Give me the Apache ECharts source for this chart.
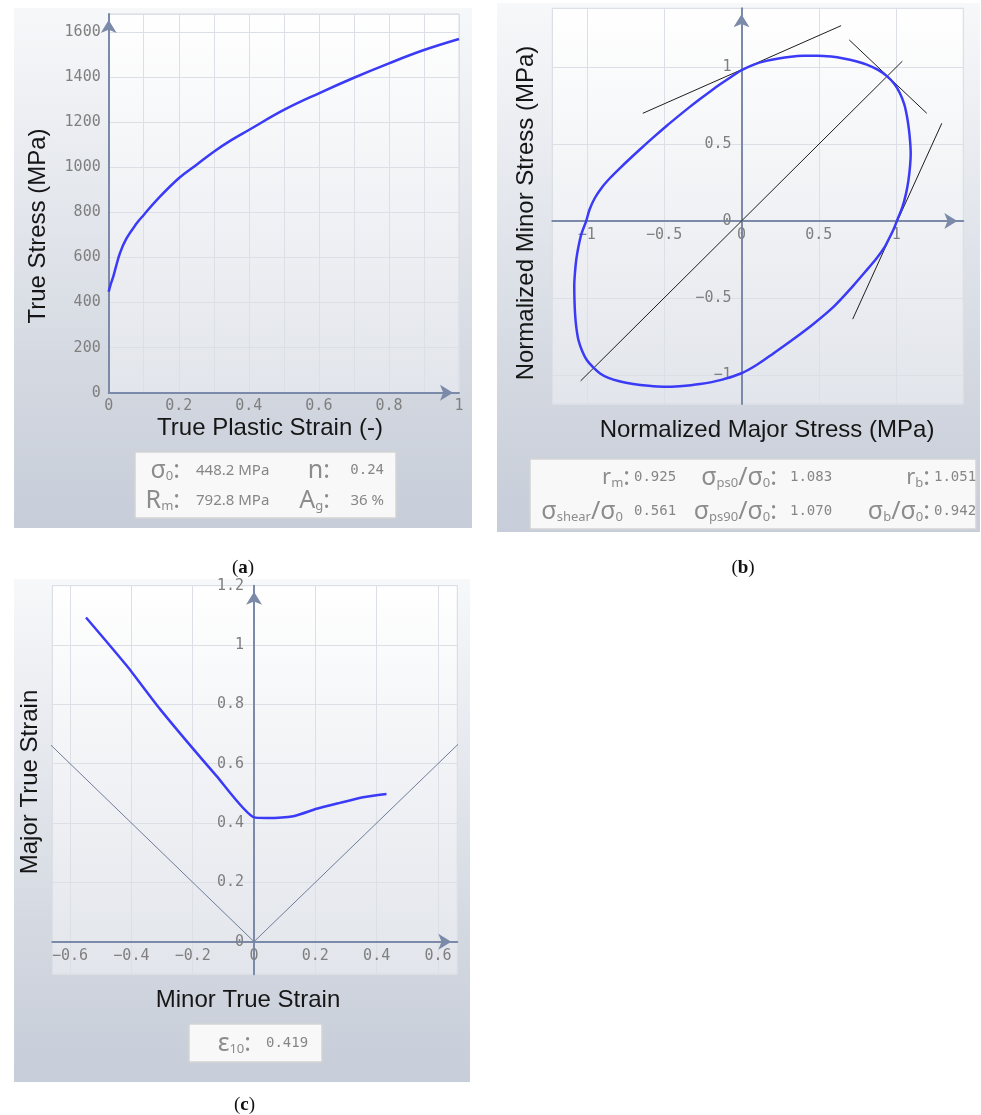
<!DOCTYPE html>
<html>
<head>
<meta charset="utf-8">
<script src="https://cdn.jsdelivr.net/npm/echarts@6/dist/echarts.min.js"></script>
<style>
  html, body { margin: 0; padding: 0; background: #ffffff; }
  #chart { width: 981px; height: 1115px; }
</style>
</head>
<body>
<div id="chart"></div>
<script>
// ---- (a) flow curve: true stress vs true plastic strain ----
const strainA = [0, 0.005, 0.013, 0.02, 0.032, 0.05, 0.08, 0.1, 0.137, 0.2, 0.25, 0.3, 0.35, 0.4, 0.5, 0.6, 0.7, 0.8, 0.9, 1.0];
const stressA = [448, 478, 515, 555, 619, 683, 752, 789, 855, 952, 1011, 1070, 1121, 1166, 1255, 1329, 1398, 1462, 1521, 1570];

// ---- (b) normalized yield locus (closed loop, counter-clockwise from the major-stress axis) ----
const locusMajor = [1.004, 1.04, 1.064, 1.08, 1.09, 1.094, 1.09, 1.082, 1.07, 1.052, 1.025, 0.99, 0.94, 0.88, 0.81, 0.74, 0.66, 0.58, 0.49, 0.4, 0.32, 0.24, 0.16, 0.08, 0,
  -0.07, -0.138, -0.2, -0.268, -0.34, -0.41, -0.483, -0.57, -0.655, -0.72, -0.785, -0.845, -0.9, -0.948, -0.982, -1.004,
  -1.035, -1.054, -1.068, -1.076, -1.081, -1.08, -1.076, -1.068, -1.054, -1.03, -1.0, -0.96, -0.914, -0.86, -0.79, -0.7, -0.6, -0.505, -0.4, -0.268, -0.13, 0,
  0.1, 0.206, 0.33, 0.465, 0.6, 0.723, 0.8, 0.875, 0.925, 0.96, 0.985, 1.004];
const locusMinor = [0, 0.09, 0.18, 0.27, 0.36, 0.44, 0.52, 0.6, 0.68, 0.76, 0.83, 0.89, 0.943, 0.985, 1.018, 1.04, 1.058, 1.07, 1.076, 1.075, 1.069, 1.058, 1.042, 1.018, 0.981,
  0.936, 0.89, 0.845, 0.794, 0.738, 0.681, 0.62, 0.544, 0.467, 0.407, 0.345, 0.285, 0.222, 0.15, 0.075, 0,
  -0.085, -0.167, -0.25, -0.33, -0.42, -0.5, -0.6, -0.69, -0.774, -0.845, -0.904, -0.95, -0.991, -1.02, -1.042, -1.06, -1.072, -1.078, -1.074, -1.06, -1.033, -0.99,
  -0.935, -0.861, -0.772, -0.669, -0.553, -0.42, -0.33, -0.24, -0.17, -0.102, -0.05, 0];
// reference lines: tangents at the uniaxial / biaxial points and the equibiaxial diagonal
const tangentUni90 = [[-0.638, 0.701], [0.644, 1.271]];
const tangentBiax  = [[0.697, 1.178], [1.198, 0.701]];
const tangentUni0  = [[0.719, -0.638], [1.295, 0.636]];
const diagonalB    = [[-1.04, -1.04], [1.04, 1.04]];

// ---- (c) forming limit curve ----
const flcMinor = [-0.548, -0.415, -0.306, -0.122, 0, 0.041, 0.128, 0.204, 0.28, 0.356, 0.432];
const flcMajor = [1.093, 0.93, 0.783, 0.558, 0.419, 0.417, 0.423, 0.448, 0.468, 0.487, 0.498];
const guideMinor = [-0.7, 0, 0.7];
const guideMajor = [0.7, 0, 0.7];

// ---- info box texts ----
const infoA = [
  { sym: '{s|σ}{sub|0}{s|:}', val: '448.2 MPa', sym2: '{s|n:}', val2: '0.24' },
  { sym: '{s|R}{sub|m}{s|:}', val: '792.8 MPa', sym2: '{s|A}{sub|g}{s|:}', val2: '36 %' }
];
const infoB = [
  ['{r|r}{sub|m}{s|:}', '0.925', '{s|σ}{sub|ps0}{s|/σ}{sub|0}{s|:}', '1.083', '{r|r}{sub|b}{s|:}', '1.051'],
  ['{s|σ}{sub|shear}{s|/σ}{sub|0}', '0.561', '{s|σ}{sub|ps90}{s|/σ}{sub|0}{s|:}', '1.070', '{s|σ}{sub|b}{s|/σ}{sub|0}{s|:}', '0.942']
];
const infoC = { sym: '{s|ε}{sub|10}{s|:}', val: '0.419' };

const pairs = (xs, ys) => xs.map((x, i) => [x, ys[i]]);

const AXIS_COLOR = '#7b8aa8';
const LABEL_FONT = '"DejaVu Sans Mono", monospace';
const TITLE_FONT = '24px "Liberation Sans", Arial, sans-serif';
const minus = v => String(+(+v).toFixed(6)).replace('-', '\u2212');

// plot rectangles [left, top, width, height]
const RECT_A = [108.7, 14, 350.3, 378.7];
const RECT_B = [552.3, 8.3, 411, 395.7];
const RECT_C = [52.3, 585.7, 405, 388.6];

function valueAxis(gridIndex, extra) {
  const labelBase = {
    fontFamily: LABEL_FONT, fontSize: 15, color: '#7f7f7f', margin: 8,
    formatter: minus
  };
  const out = {
    type: 'value',
    gridIndex: gridIndex,
    axisLine: {
      show: true,
      onZero: false,
      lineStyle: { color: AXIS_COLOR, width: 2 },
      symbol: ['none', 'arrow'],
      symbolSize: [12, 13],
      symbolOffset: [0, -6]
    },
    axisTick: { show: false },
    splitLine: { show: true, lineStyle: { color: '#dcdfe5', width: 1 } }
  };
  Object.keys(extra).forEach(k => { if (k !== 'axisLabel') out[k] = extra[k]; });
  out.axisLabel = Object.assign({}, labelBase, extra.axisLabel || {});
  return out;
}
// shift an axis so that it crosses the other axis at zero
const zeroOffset = (min, max, span) => -span * (0 - min) / (max - min);

const plotBg = {
  type: 'linear', x: 0, y: 0, x2: 0, y2: 1,
  colorStops: [{ offset: 0, color: '#ffffff' }, { offset: 1, color: '#e2e5eb' }]
};
const panelBg = {
  type: 'linear', x: 0, y: 0, x2: 0, y2: 1,
  colorStops: [{ offset: 0, color: '#f7f8fa' }, { offset: 0.75, color: '#d1d6df' }, { offset: 1, color: '#c7cdd9' }]
};

function gridBox(r) {
  return { left: r[0], top: r[1], width: r[2], height: r[3], show: true, backgroundColor: plotBg, borderColor: '#d6d9e0', borderWidth: 1 };
}

const SYM_FAMILY = '"Noto Sans", sans-serif';
const SYM_COLOR = '#8c8c8c';
const richSym = {
  s: { fontSize: 25, fontFamily: SYM_FAMILY, fill: SYM_COLOR },
  r: { fontSize: 22, fontFamily: SYM_FAMILY, fill: SYM_COLOR },
  sub: { fontSize: 13, fontFamily: SYM_FAMILY, fill: SYM_COLOR, verticalAlign: 'bottom' }
};

function symText(x, y, text, align) {
  return { type: 'text', x, y, z: 20, style: { text, rich: richSym, fill: SYM_COLOR, align: align || 'right', verticalAlign: 'middle' } };
}
function valText(x, y, text, font, align) {
  return { type: 'text', x, y, z: 20, style: { text, font, fill: '#868686', align: align || 'left', verticalAlign: 'middle' } };
}
function box(x, y, w, h) {
  return { type: 'rect', z: 15, shape: { x, y, width: w, height: h }, style: { fill: '#f8f8f8', stroke: '#d3d3d3', lineWidth: 1.5 } };
}
function title(x, y, text, vertical) {
  return { type: 'text', x, y, z: 20, rotation: vertical ? Math.PI / 2 : 0,
    style: { text, font: TITLE_FONT, fill: '#161616', align: 'center', verticalAlign: 'middle' } };
}
function caption(x, y, letter) {
  return { type: 'text', x, y, z: 20,
    style: { text: '(' + '{b|' + letter + '})', font: '19px "Liberation Serif", serif', fill: '#111',
      align: 'center', verticalAlign: 'middle',
      rich: { b: { fontWeight: 'bold', fontSize: 19, fontFamily: '"Liberation Serif", serif', fill: '#111' } } } };
}

const monoVal = '14px "DejaVu Sans Mono", monospace';
const sansVal = '15px "Noto Sans", sans-serif';

const graphics = [
  // panel backgrounds
  { type: 'rect', z: -10, shape: { x: 14, y: 8, width: 458, height: 520 }, style: { fill: panelBg } },
  { type: 'rect', z: -10, shape: { x: 497, y: 3, width: 483, height: 529 }, style: { fill: panelBg } },
  { type: 'rect', z: -10, shape: { x: 14, y: 579, width: 456, height: 503 }, style: { fill: panelBg } },
  // axis titles
  title(270, 428.5, 'True Plastic Strain (-)'),
  title(38, 226, 'True Stress (MPa)', true),
  title(767, 430.5, 'Normalized Major Stress (MPa)'),
  title(526, 213, 'Normalized Minor Stress (MPa)', true),
  title(248, 1000, 'Minor True Strain'),
  title(30.5, 782, 'Major True Strain', true),
  // info boxes
  box(135, 452, 261, 66),
  box(530, 459, 446, 70),
  box(189, 1024, 133, 38),
  // captions
  caption(243, 568, 'a'),
  caption(743, 568, 'b'),
  caption(244.5, 1105, 'c')
];

// (a) info rows
infoA.forEach((row, i) => {
  const y = 470.5 + i * 30;
  graphics.push(symText(180, y, row.sym));
  graphics.push(valText(196, y, row.val, sansVal));
  graphics.push(symText(330, y, row.sym2));
  graphics.push(valText(384, y, row.val2, i === 0 ? monoVal : sansVal, 'right'));
});
// (b) info rows
const colSymB = [[630, 623], [777, 777], [930, 930]];
const colValB = [634, 790, 934];
infoB.forEach((row, i) => {
  const y = 477.5 + i * 34;
  for (let c = 0; c < 3; c++) {
    graphics.push(symText(colSymB[c][i], y, row[c * 2]));
    graphics.push(valText(colValB[c], y, row[c * 2 + 1], monoVal));
  }
});
// (c) info row
graphics.push(symText(251, 1043.5, infoC.sym));
graphics.push(valText(266, 1043.5, infoC.val, monoVal));

const blue = '#3a3af7';

const XB = [-1.223, 1.434], YB = [-1.19, 1.384];
const XC = [-0.658, 0.663], YC = [-0.11, 1.2];

const option = {
  animation: false,
  backgroundColor: '#ffffff',
  grid: [gridBox(RECT_A), gridBox(RECT_B), gridBox(RECT_C)],
  xAxis: [
    valueAxis(0, { min: 0, max: 1, interval: 0.1,
      axisLabel: { margin: 6, formatter: v => (Math.round(v * 10) % 2 === 0 ? String(+(+v).toFixed(1)) : '') } }),
    valueAxis(1, { min: XB[0], max: XB[1], splitNumber: 5, position: 'bottom',
      offset: zeroOffset(YB[0], YB[1], RECT_B[3]),
      axisLabel: { margin: 7, showMinLabel: false, showMaxLabel: false } }),
    valueAxis(2, { min: XC[0], max: XC[1], splitNumber: 6, position: 'bottom',
      offset: zeroOffset(YC[0], YC[1], RECT_C[3]),
      axisLabel: { margin: 7, showMinLabel: false, showMaxLabel: false } })
  ],
  yAxis: [
    valueAxis(0, { min: 0, max: 1681, interval: 200,
      axisLabel: { margin: 8, showMaxLabel: false } }),
    valueAxis(1, { min: YB[0], max: YB[1], splitNumber: 5, position: 'left',
      offset: zeroOffset(XB[0], XB[1], RECT_B[2]),
      axisLabel: { margin: 10, showMinLabel: false, showMaxLabel: false } }),
    valueAxis(2, { min: YC[0], max: YC[1], splitNumber: 6, position: 'left',
      offset: zeroOffset(XC[0], XC[1], RECT_C[2]),
      axisLabel: { margin: 10, showMinLabel: false } })
  ],
  graphic: { elements: graphics },
  series: [
    { type: 'line', xAxisIndex: 0, yAxisIndex: 0, data: pairs(strainA, stressA), smooth: 0.4,
      showSymbol: false, lineStyle: { color: blue, width: 2.5 } },

    { type: 'line', xAxisIndex: 1, yAxisIndex: 1, data: tangentUni90, showSymbol: false,
      lineStyle: { color: '#1e1e1e', width: 1 } },
    { type: 'line', xAxisIndex: 1, yAxisIndex: 1, data: tangentBiax, showSymbol: false,
      lineStyle: { color: '#1e1e1e', width: 1 } },
    { type: 'line', xAxisIndex: 1, yAxisIndex: 1, data: tangentUni0, showSymbol: false,
      lineStyle: { color: '#1e1e1e', width: 1 } },
    { type: 'line', xAxisIndex: 1, yAxisIndex: 1, data: diagonalB, showSymbol: false,
      lineStyle: { color: '#1e1e1e', width: 1 } },
    { type: 'line', xAxisIndex: 1, yAxisIndex: 1, data: pairs(locusMajor, locusMinor), smooth: 0.3,
      showSymbol: false, lineStyle: { color: blue, width: 2.5 } },

    { type: 'line', xAxisIndex: 2, yAxisIndex: 2, data: pairs(guideMinor, guideMajor), showSymbol: false,
      lineStyle: { color: '#6e7c9a', width: 1 } },
    { type: 'line', xAxisIndex: 2, yAxisIndex: 2, data: pairs(flcMinor, flcMajor), smooth: 0.2,
      showSymbol: false, lineStyle: { color: blue, width: 2.5 } }
  ]
};

const chart = echarts.init(document.getElementById('chart'), null, { renderer: 'canvas' });
chart.setOption(option);
</script>
</body>
</html>
